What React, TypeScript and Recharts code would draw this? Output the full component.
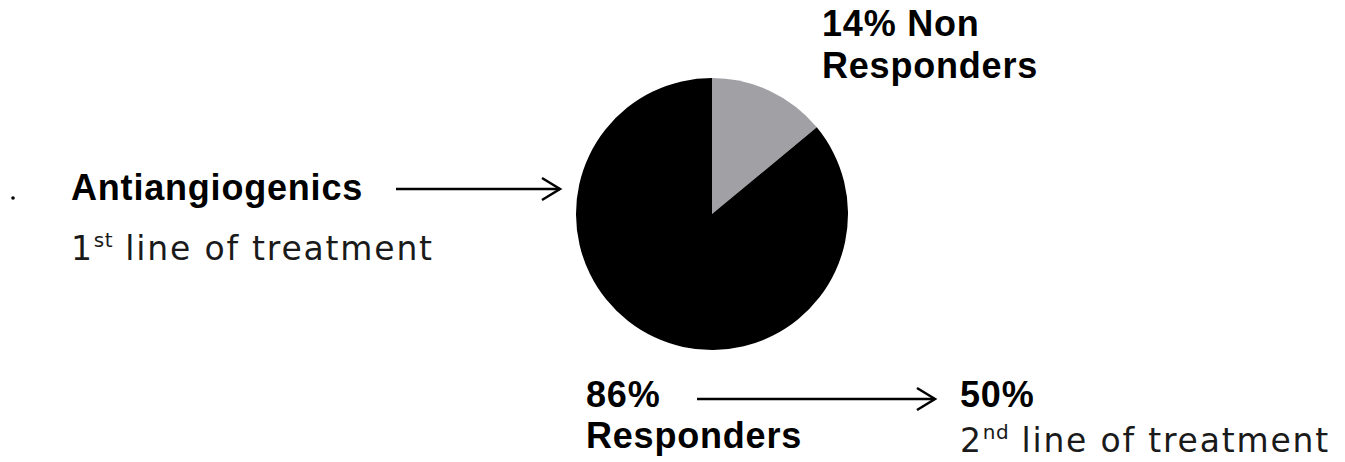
import { PieChart, Pie, Cell } from 'recharts';

// response split after first-line antiangiogenic therapy
const groups = ['Non Responders', 'Responders'];
const shares = [14, 86];
const sliceColors = ['#a1a0a5', '#000000'];
const secondLineShare = 50;

const W = 1345;
const H = 462;

const bold = {
  fontFamily: '"Liberation Sans", Arial, sans-serif',
  fontWeight: 700,
  fontSize: 36,
  letterSpacing: 0.8,
  fill: '#000',
};

const regular = {
  fontFamily: '"DejaVu Sans", sans-serif',
  fontWeight: 400,
  fontSize: 33,
  letterSpacing: 1.8,
  fill: '#1a1a1a',
};

function Arrow({ x1, x2, y }: { x1: number; x2: number; y: number }) {
  return (
    <g stroke="#000" strokeWidth={2.5} fill="none">
      <line x1={x1} y1={y} x2={x2} y2={y} />
      <polyline points={`${x2 - 18},${y - 11} ${x2},${y} ${x2 - 18},${y + 11}`} strokeLinejoin="miter" />
    </g>
  );
}

function LineOfTreatment({ x, y, n, suffix }: { x: number; y: number; n: number; suffix: string }) {
  return (
    <text x={x} y={y} style={regular}>
      {n}
      <tspan fontSize={20} letterSpacing={0.5} dy={-13}>{suffix}</tspan>
      <tspan dy={13}> line of treatment</tspan>
    </text>
  );
}

export default function App() {
  const data = groups.map((name, i) => ({ name, value: shares[i] }));

  return (
    <div style={{ position: 'absolute', left: 0, top: 0, width: W, height: H, background: '#fff' }}>
      <PieChart width={W} height={H} margin={{ top: 0, right: 0, bottom: 0, left: 0 }}>
        <Pie
          data={data}
          dataKey="value"
          cx={712}
          cy={214}
          outerRadius={136}
          startAngle={90}
          endAngle={-270}
          stroke="none"
          isAnimationActive={false}
        >
          {data.map((d, i) => (
            <Cell key={d.name} fill={sliceColors[i]} />
          ))}
        </Pie>
      </PieChart>

      <svg width={W} height={H} style={{ position: 'absolute', left: 0, top: 0 }}>
        <circle cx={13} cy={198} r={1.8} fill="#000" />
        <text x={71} y={200} style={bold}>Antiangiogenics</text>
        <Arrow x1={396} x2={560} y={189} />
        <LineOfTreatment x={71} y={260} n={1} suffix="st" />

        <text x={822} y={36} style={bold}>{shares[0]}% Non</text>
        <text x={822} y={78} style={bold}>{groups[0].split(' ')[1]}</text>

        <text x={586} y={407} style={bold}>{shares[1]}%</text>
        <text x={586} y={448} style={bold}>{groups[1]}</text>
        <Arrow x1={697} x2={935} y={399} />

        <text x={960} y={407} style={bold}>{secondLineShare}%</text>
        <LineOfTreatment x={960} y={452} n={2} suffix="nd" />
      </svg>
    </div>
  );
}
